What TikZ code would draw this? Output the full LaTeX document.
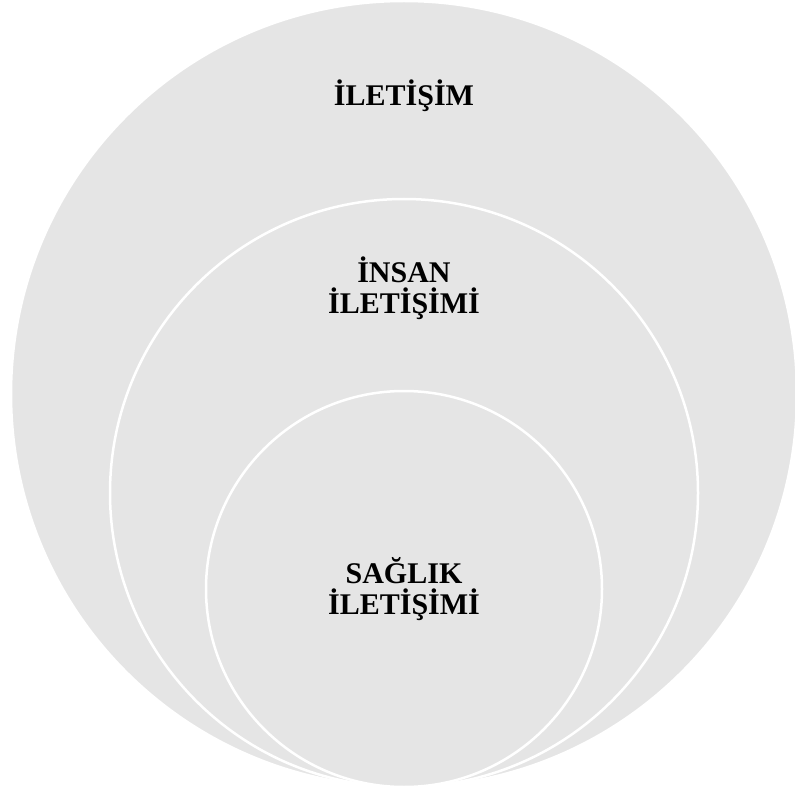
\documentclass[tikz,border=0pt]{standalone}
\usepackage{fontspec}
\setmainfont{Liberation Serif}
\usepackage{tikz}
\definecolor{cDisk}{RGB}{229,229,229}
\tikzset{
	disk/.style ={circle, fill=cDisk, draw=white, line width=2.5pt, inner sep=0pt},
	lbl/.style  ={font=\fontsize{30}{31}\selectfont\bfseries, align=center, anchor=base, inner sep=0pt},
}
\begin{document}
\begin{tikzpicture}[x=1pt, y=-1pt]
	\useasboundingbox (0,0) rectangle (795,794);
	% nested circles, all touching at the bottom
	\node[disk, minimum size=786pt] (dOuter) at (404,394) {};
	\node[disk, minimum size=588pt] (dMid) at (404,493) {};
	\node[disk, minimum size=396pt] (dInner) at (404,589) {};
	% labels
	\node[lbl] (tOuter) at (404,106) {İLETİŞİM};
	\node[lbl] (tMid) at (404,313) {İNSAN\\İLETİŞİMİ};
	\node[lbl] (tInner) at (404,614) {SAĞLIK\\İLETİŞİMİ};
\end{tikzpicture}
\end{document}
